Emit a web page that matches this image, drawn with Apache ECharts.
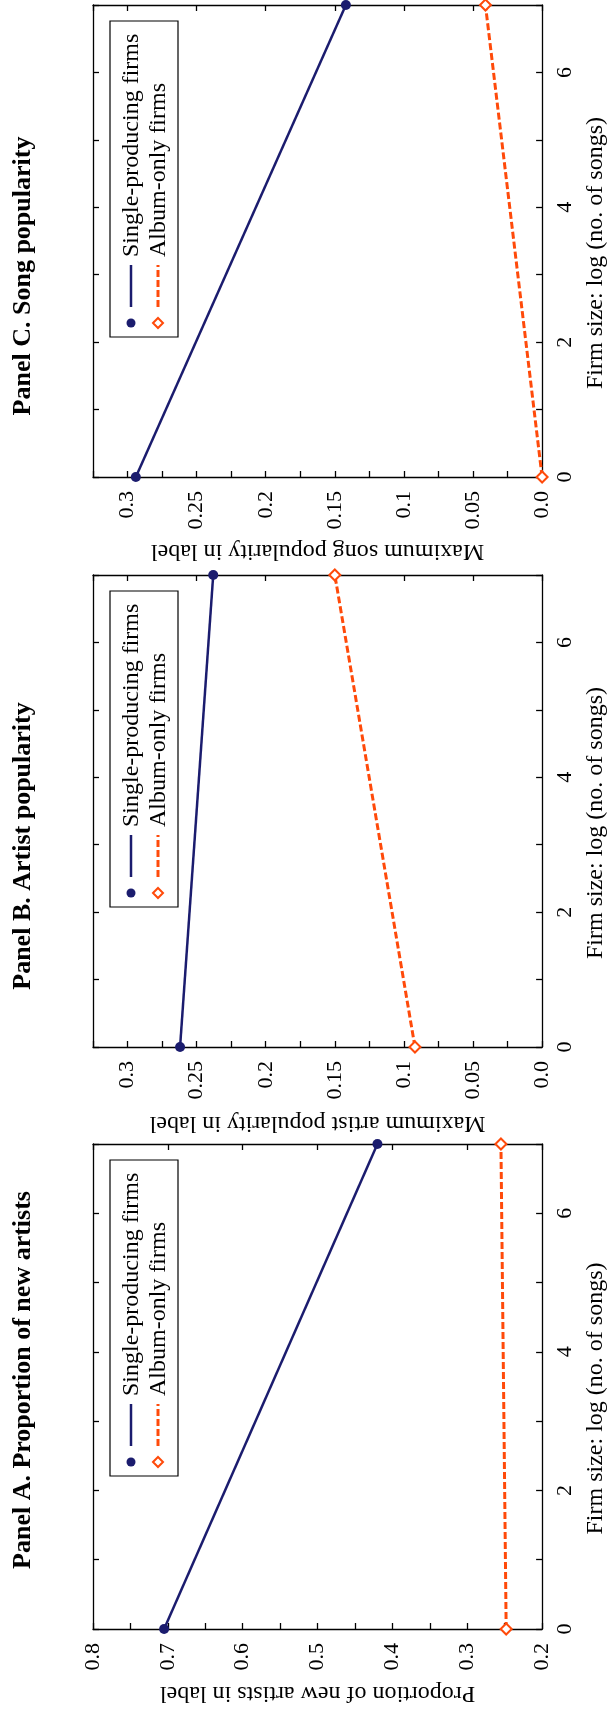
<!DOCTYPE html>
<html>
<head>
<meta charset="utf-8">
<script src="https://cdn.jsdelivr.net/npm/echarts@6/dist/echarts.min.js"></script>
<style>
html, body { margin: 0; padding: 0; background: #fff; }
#chart { width: 616px; height: 1709px; }
</style>
</head>
<body>
<div id="chart"></div>
<script>
// firm size: log (no. of songs) at the two ends of each line
var firmSize = [0, 7];
var firmLabels = [0, 2, 4, 6];

// Panel A. Proportion of new artists
var newArtistsSingle = [0.705, 0.42];
var newArtistsAlbum = [0.248, 0.255];
// Panel B. Artist popularity
var artistPopSingle = [0.262, 0.238];
var artistPopAlbum = [0.092, 0.15];
// Panel C. Song popularity
var songPopSingle = [0.294, 0.142];
var songPopAlbum = [0.0, 0.041];

var seriesNames = ['Single-producing firms', 'Album-only firms'];

var BLUE = '#1b1c6e';
var ORANGE = '#ff4a0a';
var FONT = '"Liberation Serif", "DejaVu Serif", serif';

function fmt3(v) { return Math.abs(v) < 1e-9 ? '0.0' : String(+v.toFixed(3)); }
function fmt1(v) { return v.toFixed(1); }

// the figure is printed turned a quarter turn, so every panel is drawn sideways
var panels = [
    { title: 'Panel C. Song popularity', name: 'Maximum song popularity in label',
      single: songPopSingle, album: songPopAlbum, min: 0, max: 0.325, minor: 0.025, major: 0.05,
      top: 5, height: 472, nameGap: 62, titleY: 276, fmt: fmt3 },
    { title: 'Panel B. Artist popularity', name: 'Maximum artist popularity in label',
      single: artistPopSingle, album: artistPopAlbum, min: 0, max: 0.325, minor: 0.025, major: 0.05,
      top: 575, height: 472, nameGap: 64, titleY: 846, fmt: fmt3 },
    { title: 'Panel A. Proportion of new artists', name: 'Proportion of new artists in label',
      single: newArtistsSingle, album: newArtistsAlbum, min: 0.2, max: 0.8, minor: 0.05, major: 0.1,
      top: 1144, height: 485, nameGap: 52, titleY: 1380, fmt: fmt1 }
];

var PLOT_LEFT = 93, PLOT_W = 459;

var grids = [], xAxes = [], yAxes = [], series = [], graphics = [];

function pairs(vals) {
    return vals.map(function (v, i) { return [v, firmSize[i]]; });
}

panels.forEach(function (p, i) {
    grids.push({ left: PLOT_LEFT, top: p.top, width: PLOT_W, height: p.height });

    var lineStyle = { color: '#000', width: 1.3 };
    var axisLine = { show: true, onZero: false, lineStyle: lineStyle };
    var tick = { show: true, inside: true, length: 6, lineStyle: lineStyle };

    // main value axis (bottom)
    xAxes.push({
        type: 'value', gridIndex: i, position: 'bottom', inverse: true,
        min: p.min, max: p.max, interval: p.minor,
        axisLine: axisLine, axisTick: tick, splitLine: { show: false },
        axisLabel: {
            rotate: 90, margin: 14, fontSize: 22, fontFamily: FONT, color: '#000',
            showMinLabel: true, showMaxLabel: true,
            formatter: function (v) {
                var k = v / p.major;
                if (Math.abs(k - Math.round(k)) > 1e-6) return '';
                return p.fmt(v);
            }
        },
        name: p.name, nameLocation: 'middle', nameGap: p.nameGap, nameRotate: 180,
        nameTextStyle: { fontSize: 24, fontFamily: FONT, color: '#000' }
    });
    // mirror ticks on the opposite edge
    xAxes.push({
        type: 'value', gridIndex: i, position: 'top', inverse: true,
        min: p.min, max: p.max, interval: p.major,
        axisLine: axisLine, axisTick: tick, splitLine: { show: false },
        axisLabel: { show: false }
    });
    // firm size axis (right)
    yAxes.push({
        type: 'value', gridIndex: i, position: 'right',
        min: firmSize[0], max: firmSize[1], interval: 1,
        axisLine: axisLine, axisTick: tick, splitLine: { show: false },
        axisLabel: {
            rotate: 90, margin: 12, fontSize: 22, fontFamily: FONT, color: '#000',
            showMinLabel: true,
            formatter: function (v) { return firmLabels.indexOf(v) >= 0 ? String(v) : ''; }
        },
        name: 'Firm size: log (no. of songs)', nameLocation: 'middle', nameGap: 40,
        nameTextStyle: { fontSize: 24, fontFamily: FONT, color: '#000', padding: [0, 24, 0, 0] }
    });
    yAxes.push({
        type: 'value', gridIndex: i, position: 'left',
        min: firmSize[0], max: firmSize[1], interval: 1,
        axisLine: axisLine, axisTick: tick, splitLine: { show: false },
        axisLabel: { show: false }
    });

    series.push({
        name: seriesNames[0], type: 'line', xAxisIndex: 2 * i, yAxisIndex: 2 * i,
        data: pairs(p.single), clip: false,
        symbol: 'circle', symbolSize: 10,
        lineStyle: { color: BLUE, width: 2.5 },
        itemStyle: { color: BLUE }
    });
    series.push({
        name: seriesNames[1], type: 'line', xAxisIndex: 2 * i, yAxisIndex: 2 * i,
        data: pairs(p.album), clip: false,
        symbol: 'diamond', symbolSize: 11,
        lineStyle: { color: ORANGE, width: 3, type: [7, 3] },
        itemStyle: { color: '#fff', borderColor: ORANGE, borderWidth: 2 }
    });

    // panel title, turned to read upwards
    graphics.push({
        type: 'text', x: 23, y: p.titleY, rotation: Math.PI / 2,
        style: {
            text: p.title, font: 'bold 26px ' + FONT, fill: '#000',
            align: 'center', verticalAlign: 'middle',
            textAlign: 'center', textVerticalAlign: 'middle'
        }
    });

    // legend, laid out unturned and then rotated
    var legLen = 316, legW = 68;
    graphics.push({
        type: 'group', x: PLOT_LEFT + 17, y: p.top + 16 + legLen, rotation: Math.PI / 2,
        children: [
            { type: 'rect', shape: { x: 0, y: 0, width: legLen, height: legW },
              style: { fill: '#fff', stroke: '#000', lineWidth: 1.2 } },
            { type: 'circle', shape: { cx: 14, cy: 21, r: 4.5 }, style: { fill: BLUE } },
            { type: 'line', shape: { x1: 30, y1: 21, x2: 72, y2: 21 },
              style: { stroke: BLUE, lineWidth: 2.5 } },
            { type: 'text', style: { x: 80, y: 22, text: seriesNames[0], font: '24px ' + FONT, fill: '#000',
              align: 'left', verticalAlign: 'middle', textAlign: 'left', textVerticalAlign: 'middle' } },
            { type: 'polygon', shape: { points: [[14, 43], [19, 48], [14, 53], [9, 48]] },
              style: { fill: '#fff', stroke: ORANGE, lineWidth: 2 } },
            { type: 'line', shape: { x1: 30, y1: 48, x2: 72, y2: 48 },
              style: { stroke: ORANGE, lineWidth: 3, lineDash: [7, 3] } },
            { type: 'text', style: { x: 80, y: 49, text: seriesNames[1], font: '24px ' + FONT, fill: '#000',
              align: 'left', verticalAlign: 'middle', textAlign: 'left', textVerticalAlign: 'middle' } }
        ]
    });
});

var chart = echarts.init(document.getElementById('chart'));
chart.setOption({
    animation: false,
    backgroundColor: '#fff',
    grid: grids,
    xAxis: xAxes,
    yAxis: yAxes,
    series: series,
    graphic: graphics
});
</script>
</body>
</html>
